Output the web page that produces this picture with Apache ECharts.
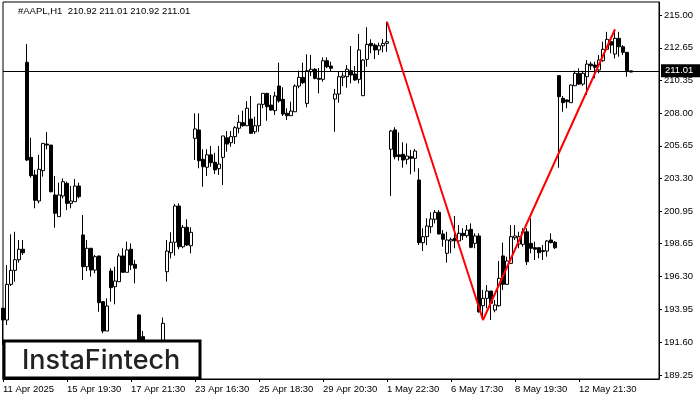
<!DOCTYPE html>
<html>
<head>
<meta charset="utf-8">
<script src="https://cdn.jsdelivr.net/npm/echarts@6/dist/echarts.min.js"></script>
<style>
html,body{margin:0;padding:0;background:#fff;}
#chart{width:700px;height:400px;}
</style>
</head>
<body>
<div id="chart"></div>
<script>
// ---- data (AAPL H1) ----
const symbol = '#AAPL,H1';
const open = [
194.03,193.19,195.74,196.74,197.50,198.25,
211.62,204.82,203.56,201.70,203.87,205.77,205.70,
202.13,200.58,202.06,202.96,201.53,201.65,202.77,
199.27,197.00,198.32,196.76,197.77,194.50,192.40,
196.69,195.57,195.93,197.77,196.60,198.25,197.17,
193.55,192.00,191.00,190.40,190.90,191.20,191.40,
196.64,198.00,198.75,201.34,198.43,199.82,198.50,
206.18,206.78,204.68,204.11,205.00,204.47,204.01,
204.82,206.22,205.87,206.30,206.90,207.30,207.08,
207.56,206.65,207.08,208.61,209.40,208.56,208.16,
209.92,208.97,207.97,207.80,208.08,209.92,210.54,
208.68,210.94,211.12,210.47,210.40,211.73,211.35,
208.99,209.35,210.54,210.59,211.02,210.78,210.40,
209.23,211.83,212.97,212.85,212.50,212.80,212.97,
205.40,206.78,205.00,205.04,204.68,204.87,204.75,
203.20,198.72,199.15,199.86,200.39,200.89,199.34,
197.96,198.84,199.03,198.84,199.39,199.22,199.67,
198.67,199.20,194.21,194.74,195.26,193.90,194.21,
197.77,195.74,197.24,199.07,198.62,198.60,199.50,
198.67,198.36,198.36,198.15,198.12,198.91,198.75,
210.66,209.04,208.92,208.73,209.94,210.83,210.06,
210.59,211.49,211.42,211.07,211.73,212.55,213.09,
212.21,213.33,212.73,212.33,210.92
];
const close = [
193.19,195.74,196.74,197.50,198.25,198.00,
204.63,203.51,201.75,203.97,205.82,205.70,202.36,
200.82,202.13,203.08,201.53,201.70,202.77,202.01,
197.00,198.32,196.76,197.72,194.43,192.40,194.19,
195.50,195.98,197.77,196.60,198.20,197.12,196.89,
191.20,191.00,190.40,190.90,191.20,191.40,192.95,
198.12,198.75,201.34,198.43,199.82,198.55,199.46,
206.85,204.58,204.15,205.00,204.44,203.92,204.34,
206.35,205.77,206.30,206.94,207.33,207.08,208.33,
206.54,207.08,208.63,209.40,208.44,208.20,209.21,
208.85,207.92,207.80,208.13,209.92,210.54,210.16,
211.02,211.12,210.47,210.40,211.73,211.30,211.19,
209.35,210.59,210.64,211.12,210.71,210.35,212.50,
211.78,212.90,212.80,212.50,212.80,212.97,213.09,
206.70,204.87,204.87,204.63,204.92,204.75,205.27,
198.72,199.15,199.91,200.41,200.89,199.34,198.96,
198.91,198.96,198.86,199.39,199.22,199.62,198.39,
199.20,193.78,194.74,195.26,194.39,194.26,196.17,
195.74,197.41,199.15,199.20,199.15,199.50,197.36,
198.32,198.25,198.00,198.08,198.84,198.72,198.36,
209.16,208.73,208.80,209.99,210.83,210.06,210.83,
211.49,211.37,211.26,211.78,212.55,213.26,212.85,
213.33,212.73,212.33,211.02,211.01
];
const high = [
194.05,197.12,199.32,199.50,198.91,198.91,
212.92,206.22,203.92,205.00,205.85,206.63,205.70,
203.49,203.01,203.32,203.08,202.77,203.27,203.01,
200.70,198.91,198.32,197.84,197.77,194.55,194.74,
196.89,197.00,197.96,198.32,198.79,198.67,197.48,
193.60,192.40,191.50,191.20,191.50,191.60,193.36,
198.91,199.46,201.48,201.53,199.98,200.39,199.82,
207.97,207.97,205.40,205.40,205.63,205.15,205.63,
206.35,206.70,206.70,207.06,207.85,208.16,208.85,
209.21,207.73,208.63,209.40,209.40,209.28,209.51,
211.59,209.83,208.33,208.80,210.04,211.02,211.59,
212.19,212.14,211.20,211.21,211.97,211.97,211.66,
209.71,210.94,210.90,211.42,212.78,211.35,213.64,
211.85,214.12,213.26,212.97,213.02,213.28,214.52,
206.78,206.97,206.61,205.90,205.82,205.35,205.42,
204.04,199.75,200.46,200.89,201.05,201.05,199.62,
199.50,199.07,200.63,199.98,199.75,199.98,200.10,
199.39,199.39,195.34,195.69,195.26,194.62,197.41,
198.72,197.72,199.98,199.98,199.50,199.75,199.75,
200.46,198.79,198.36,198.55,198.91,199.39,198.84,
210.71,209.21,208.97,210.04,211.02,211.19,211.02,
211.78,211.66,211.66,212.14,213.09,213.80,213.33,
213.92,213.80,212.85,212.33,211.01
];
const low = [
191.40,192.83,195.62,195.93,197.29,197.84,
204.56,203.36,201.18,201.53,203.44,205.39,202.32,
199.79,200.58,201.89,201.05,201.18,201.65,201.89,
196.05,196.69,196.29,196.53,193.78,192.24,192.40,
194.50,194.31,195.93,196.60,196.60,196.76,195.81,
190.80,190.30,189.90,189.80,190.30,190.60,191.10,
195.93,197.60,197.79,198.25,198.32,198.48,197.96,
204.63,204.04,202.72,203.49,204.15,203.63,203.56,
202.84,205.22,205.58,205.77,206.54,207.01,207.08,
206.49,206.49,206.65,208.33,207.44,208.16,207.85,
208.73,207.78,207.49,207.80,208.08,209.76,210.06,
208.40,210.64,210.40,209.40,210.23,211.19,210.94,
206.65,208.73,209.92,209.80,210.11,210.30,210.11,
209.23,211.30,212.26,211.85,212.14,212.33,212.37,
202.06,204.68,204.58,204.08,204.32,203.61,203.79,
198.55,198.12,198.55,199.39,200.10,199.32,198.43,
197.29,197.96,198.32,198.55,198.91,199.07,198.32,
198.32,193.71,193.19,194.03,193.19,193.74,194.14,
195.34,195.74,197.19,198.91,198.32,198.43,197.12,
197.96,197.48,197.60,197.48,197.72,198.67,198.27,
204.08,208.08,208.33,208.73,209.94,209.99,209.94,
209.28,211.07,210.47,210.83,211.66,212.50,212.26,
211.90,212.02,212.14,210.59,210.92
];
// time-axis tick labels (bar index -> text)
const tickIndex = [0,16,32,48,64,80,96,112,128,144];
const tickText = ['11 Apr 2025','15 Apr 19:30','17 Apr 21:30','23 Apr 16:30','25 Apr 18:30',
                  '29 Apr 20:30','1 May 22:30','6 May 17:30','8 May 19:30','12 May 21:30'];
// price-axis tick labels
const priceTicks = [189.25,191.60,193.95,196.30,198.65,200.95,203.30,205.65,208.00,210.35,212.65,215.00];
// current price line
const levelPrice = 211.01;
// red pattern line (bar index, price)
const patternIdx = [96,120,153];
const patternPrice = [214.52,193.19,213.98];

// ---- chart ----
const emptySlots = 7; // chart shift on the right
const nSlots = open.length + emptySlots;
const cats = Array.from({length:nSlots},(_,i)=>String(i));
const candles = open.map((o,i)=>[o, close[i], low[i], high[i]]);
const FONT = "'Liberation Sans', Arial, sans-serif";
const FS = 9.5;
const last = open.length - 1;
const fmt = v => v.toFixed(2);
const titleText = symbol + '  ' + [open[last],high[last],low[last],close[last]].map(fmt).join(' ');

const chart = echarts.init(document.getElementById('chart'), null, {renderer:'canvas'});
chart.setOption({
  animation:false,
  backgroundColor:'#fff',
  title:{text:titleText,left:18,top:6,padding:0,textStyle:{fontSize:FS,fontWeight:'normal',color:'#000',fontFamily:FONT}},
  grid:{left:3,right:41,top:2,bottom:21,show:true,borderColor:'#000',borderWidth:1,backgroundColor:'transparent'},
  xAxis:{
    type:'category',data:cats,boundaryGap:false,
    axisLine:{show:true,lineStyle:{color:'#000',width:1}},
    axisTick:{show:true,length:3,interval:(i)=>tickIndex.indexOf(i)>=0,lineStyle:{color:'#000'}},
    axisLabel:{show:true,interval:(i)=>tickIndex.indexOf(i)>=0,
      formatter:(v,i)=>{const k=tickIndex.indexOf(Number(v));return k>=0?tickText[k]:'';},
      align:'left',margin:5,fontSize:FS,color:'#000',fontFamily:FONT},
    splitLine:{show:false}
  },
  yAxis:{
    type:'value',position:'right',min:188.97,max:215.93,scale:true,
    axisLine:{show:true,lineStyle:{color:'#000',width:1}},
    axisTick:{show:true,length:3,customValues:priceTicks,lineStyle:{color:'#000'}},
    axisLabel:{show:true,customValues:priceTicks,formatter:v=>Number(v).toFixed(2),
      margin:5,fontSize:FS,color:'#000',fontFamily:FONT},
    splitLine:{show:false}
  },
  series:[
    {
      type:'candlestick',data:candles,barWidth:3,
      itemStyle:{color:'#fff',color0:'#000',borderColor:'#000',borderColor0:'#000',borderWidth:1},
      markLine:{
        symbol:'none',silent:true,animation:false,
        lineStyle:{color:'#000',width:1,type:'solid'},
        label:{show:true,position:'end',distance:2,formatter:()=>fmt(levelPrice),
          color:'#fff',backgroundColor:'#000',padding:[2,8,1,4],fontSize:FS,fontFamily:FONT},
        data:[{yAxis:levelPrice}]
      }
    },
    {
      type:'line',data:patternIdx.map((x,k)=>[x,patternPrice[k]]),
      symbol:'none',z:5,lineStyle:{color:'#ff0000',width:2},silent:true
    }
  ],
  graphic:[
    {type:'rect',z:100,shape:{x:4,y:341,width:196,height:37},
     style:{fill:'#fff',stroke:'#000',lineWidth:3}},
    {type:'text',z:101,x:22,y:360.5,
     style:{text:'InstaFintech',fill:'#222',font:"500 27px Inter, 'Noto Sans', sans-serif",
       textAlign:'left',textVerticalAlign:'middle'}}
  ]
});
</script>
</body>
</html>
